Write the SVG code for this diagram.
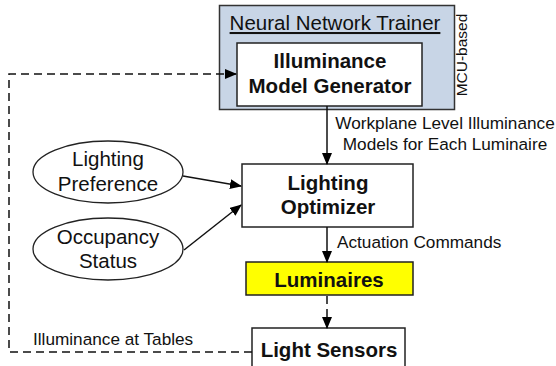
<svg xmlns="http://www.w3.org/2000/svg" width="556" height="366" viewBox="0 0 556 366">
<defs>
<marker id="ah" markerWidth="12" markerHeight="10" refX="11" refY="5" orient="auto" markerUnits="userSpaceOnUse">
<path d="M0,0 L12,5 L0,10 Z" fill="#000"/>
</marker>
<style>
text{font-family:"Liberation Sans",Arial,sans-serif;fill:#111}
.b{font-weight:bold;font-size:20.5px;text-anchor:middle}
.n{font-size:20.5px;text-anchor:middle}
.s{font-size:17.2px}
.box{fill:#fff;stroke:#222;stroke-width:1.5}
.ln{fill:none;stroke:#111;stroke-width:1.5}
.dash{stroke-dasharray:8 5}
</style>
</defs>
<g id="trainer">
<rect x="219.5" y="5.5" width="235" height="104" fill="#c8d5e6" stroke="#333" stroke-width="1.5"/>
<text x="335" y="30" class="n" text-decoration="underline">Neural Network Trainer</text>
<text transform="translate(467,55) rotate(-90)" style="font-size:15.5px;text-anchor:middle">MCU-based</text>
</g>
<g id="generator">
<rect class="box" x="237" y="43" width="185" height="63"/>
<text x="330" y="68" class="b">Illuminance</text>
<text x="330" y="93" class="b">Model Generator</text>
</g>
<g id="preference">
<ellipse cx="108" cy="172" rx="75" ry="31" fill="#fff" stroke="#222" stroke-width="1.3"/>
<text x="108" y="166" class="n">Lighting</text>
<text x="108" y="191" class="n">Preference</text>
</g>
<g id="occupancy">
<ellipse cx="108" cy="249" rx="75" ry="31" fill="#fff" stroke="#222" stroke-width="1.3"/>
<text x="108" y="244" class="n">Occupancy</text>
<text x="108" y="268" class="n">Status</text>
</g>
<g id="optimizer">
<rect class="box" x="242" y="164" width="171" height="63"/>
<text x="328" y="190" class="b">Lighting</text>
<text x="328" y="214" class="b">Optimizer</text>
</g>
<g id="luminaires">
<rect x="246" y="262" width="167" height="33" fill="#ffff00" stroke="#222" stroke-width="1.5"/>
<text x="329" y="287" class="b">Luminaires</text>
</g>
<g id="sensors">
<rect class="box" x="252" y="328" width="153" height="50"/>
<text x="329" y="357" class="b">Light Sensors</text>
</g>
<g id="connectors">
<line class="ln" x1="327" y1="106" x2="327" y2="164" marker-end="url(#ah)"/>
<text x="445" y="129" class="s" text-anchor="middle">Workplane Level Illuminance</text>
<text x="445" y="150" class="s" text-anchor="middle">Models for Each Luminaire</text>
<line class="ln" x1="183" y1="176" x2="241" y2="186" marker-end="url(#ah)"/>
<line class="ln" x1="184" y1="250" x2="241" y2="205" marker-end="url(#ah)"/>
<line class="ln" x1="327" y1="227" x2="327" y2="262" marker-end="url(#ah)"/>
<text x="337" y="248" class="s">Actuation Commands</text>
<line class="ln dash" x1="327" y1="296" x2="327" y2="328" marker-end="url(#ah)"/>
<path class="ln dash" d="M252,352 H9 V74 H236" marker-end="url(#ah)"/>
<text x="33" y="345" class="s">Illuminance at Tables</text>
</g>
</svg>
